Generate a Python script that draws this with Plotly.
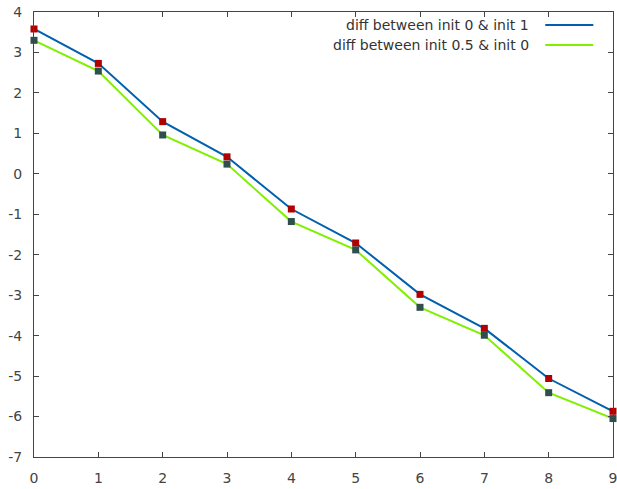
import plotly.graph_objects as go

x_vals = [0, 1, 2, 3, 4, 5, 6, 7, 8, 9]
diff_0_1 = [3.58, 2.73, 1.29, 0.42, -0.87, -1.71, -2.98, -3.82, -5.06, -5.87]
diff_05_0 = [3.30, 2.54, 0.96, 0.24, -1.18, -1.88, -3.30, -3.99, -5.41, -6.05]
series_names = ["diff between init 0 & init 1", "diff between init 0.5 & init 0"]
line_colors = ["#0060ad", "#80f000"]
marker_colors = ["#b00000", "#2f4f4f"]
x_ticks = list(range(0, 10))
y_ticks = list(range(-7, 5))
x_tick_text = [str(v) for v in x_ticks]
y_tick_text = [str(v) for v in y_ticks]  # plain hyphen-minus, as in the reference

FONT = "DejaVu Sans"
fig = go.Figure()
for ys, lc in zip([diff_0_1, diff_05_0], line_colors):
    fig.add_trace(go.Scatter(x=x_vals, y=ys, mode="lines",
                             line=dict(color=lc, width=2), showlegend=False))
for ys, mc in zip([diff_0_1, diff_05_0], marker_colors):
    fig.add_trace(go.Scatter(x=x_vals, y=ys, mode="markers",
                             marker=dict(color=mc, symbol="square", size=7,
                                         line=dict(width=0)),
                             showlegend=False, cliponaxis=False))

# gnuplot-style key: text right-aligned, sample line on the right
key_y = [0.971, 0.926]
for name, lc, ky in zip(series_names, line_colors, key_y):
    fig.add_annotation(x=0.858, y=ky, xref="paper", yref="paper", text=name,
                       showarrow=False, xanchor="right", yanchor="middle",
                       font=dict(family=FONT, size=14, color="#333333"))
    fig.add_shape(type="line", xref="paper", yref="paper", x0=0.883, x1=0.966,
                  y0=ky, y1=ky, line=dict(color=lc, width=2))

axis_common = dict(showgrid=False, zeroline=False, showline=True, linecolor="#444444",
                   linewidth=1, mirror="allticks", ticks="inside", ticklen=5,
                   automargin=False, ticklabeloverflow="allow",
                   tickcolor="#444444", tickfont=dict(family=FONT, size=14, color="#444444"))
fig.update_xaxes(range=[0, 9], tickvals=x_ticks, ticktext=x_tick_text,
                 ticklabelstandoff=8, **axis_common)
fig.update_yaxes(range=[-7, 4], tickvals=y_ticks, ticktext=y_tick_text,
                 ticklabelstandoff=8, **axis_common)

fig.update_layout(width=617, height=489, margin=dict(l=34, r=4, t=12, b=32),
                  plot_bgcolor="white", paper_bgcolor="white",
                  font=dict(family=FONT, size=14, color="#333333"))
fig.write_html("out.html", config={"displayModeBar": False},
               post_script="document.body.style.margin='0';")
